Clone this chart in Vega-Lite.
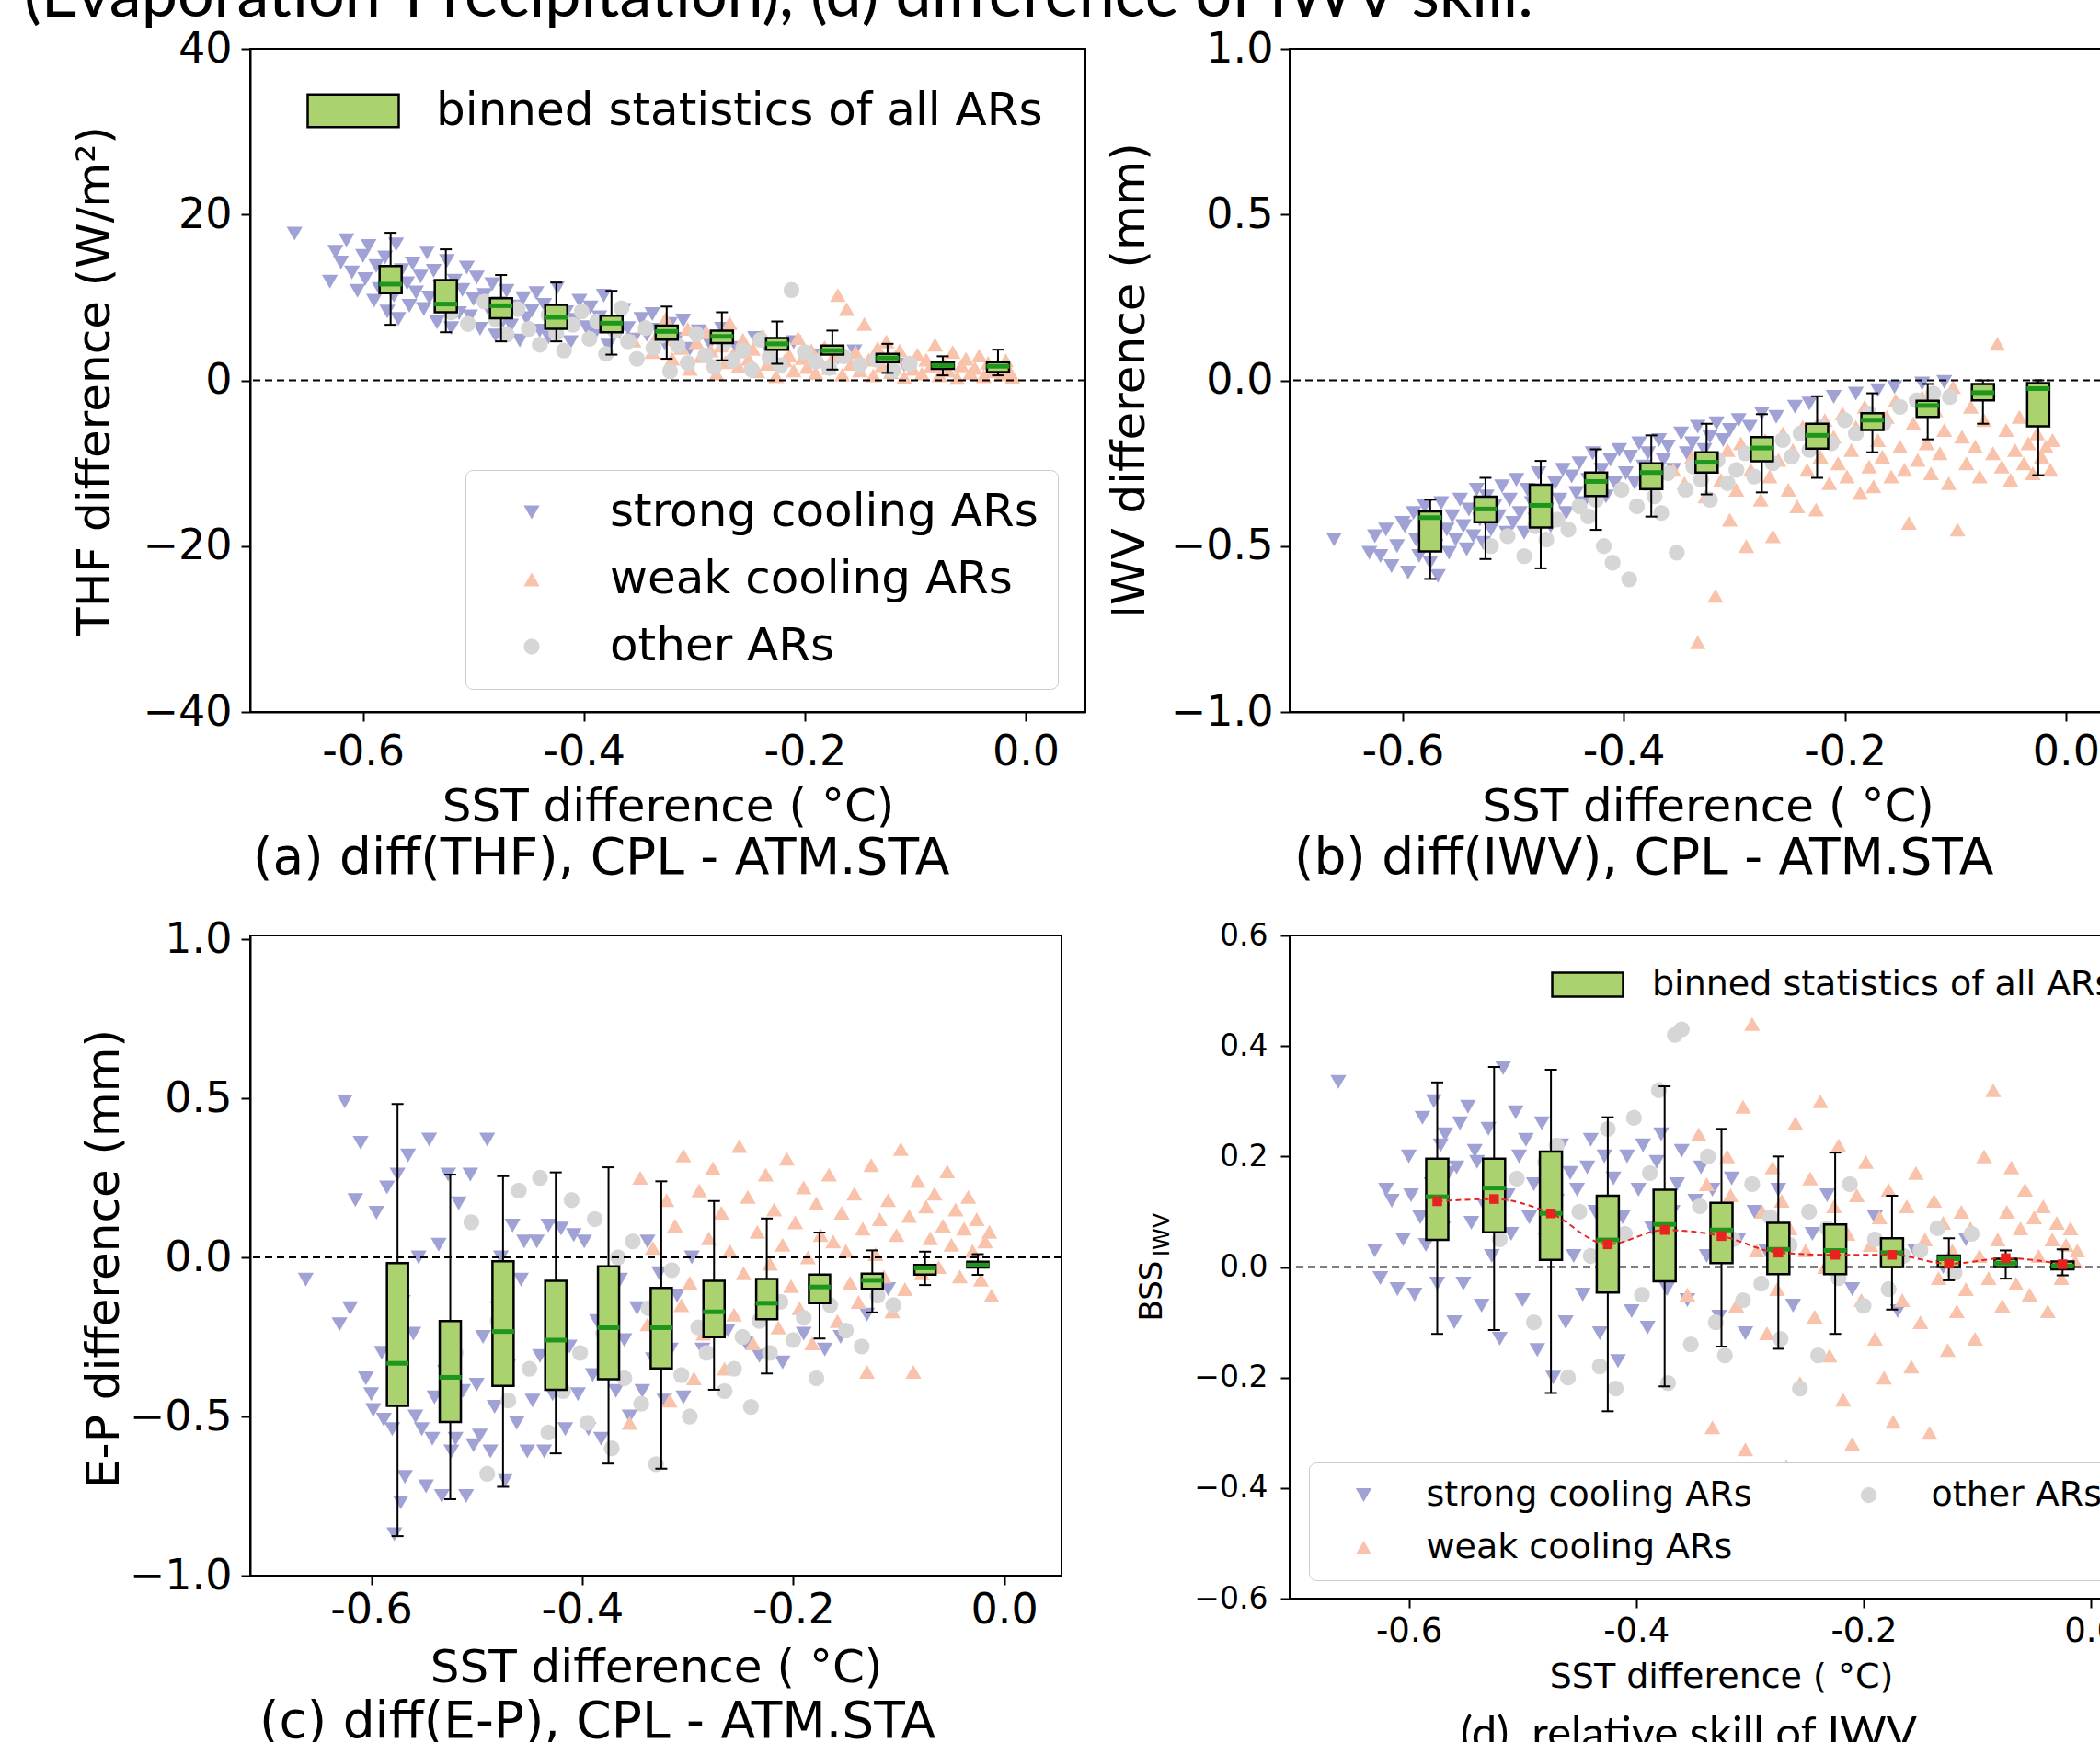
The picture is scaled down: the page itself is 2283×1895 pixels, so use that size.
{
"$schema": "https://vega.github.io/schema/vega-lite/v6.json",
"background": "white",
"padding": {"left": 26, "top": -38, "right": -56, "bottom": -18},
"title": {"text": "(Evaporation-Precipitation), (d) difference of IWV skill.", "anchor": "start", "frame": "bounds", "font": "Lato", "fontSize": 70, "fontWeight": "normal", "color": "black", "dx": -51.5, "offset": -59, "baseline": "alphabetic", "limit": 3000},
"config": {
  "font": "DejaVu Sans",
  "view": {"stroke": "black", "strokeWidth": 2},
  "axis": {"domainColor": "black", "domainWidth": 2, "tickColor": "black", "tickWidth": 2, "tickSize": 10, "labelColor": "black", "titleColor": "black", "titleFontWeight": "normal", "grid": false, "labelFont": "DejaVu Sans", "titleFont": "DejaVu Sans", "labelFlush": false, "labelOverlap": false, "labelBound": false},
  "legend": {"labelFont": "DejaVu Sans", "labelColor": "black", "labelLimit": 2000}
},
"datasets": {
"ars": [
{"sst":-0.662,"grp":"s","thf":17.7,"iwv":-0.48,"ep":-0.07,"bss":0.335},
{"sst":-0.630,"grp":"s","thf":11.9,"iwv":-0.52,"ep":-0.21,"bss":0.03},
{"sst":-0.625,"grp":"s","thf":15.5,"iwv":-0.47,"ep":0.49,"bss":-0.02},
{"sst":-0.620,"grp":"s","thf":14.2,"iwv":-0.53,"ep":-0.16,"bss":0.14},
{"sst":-0.615,"grp":"s","thf":16.9,"iwv":-0.45,"ep":0.18,"bss":0.12},
{"sst":-0.610,"grp":"s","thf":13.0,"iwv":-0.56,"ep":0.36,"bss":-0.04},
{"sst":-0.605,"grp":"s","thf":10.8,"iwv":-0.50,"ep":-0.38,"bss":0.05},
{"sst":-0.600,"grp":"s","thf":15.0,"iwv":-0.43,"ep":-0.43,"bss":0.20},
{"sst":-0.598,"grp":"s","thf":12.2,"iwv":-0.44,"ep":-0.48,"bss":0.13},
{"sst":-0.595,"grp":"s","thf":16.2,"iwv":-0.58,"ep":0.14,"bss":-0.05},
{"sst":-0.590,"grp":"s","thf":9.6,"iwv":-0.40,"ep":-0.30,"bss":0.09},
{"sst":-0.588,"grp":"s","thf":13.8,"iwv":-0.48,"ep":-0.51,"bss":0.27},
{"sst":-0.585,"grp":"s","thf":11.0,"iwv":-0.53,"ep":0.22,"bss":0.04},
{"sst":-0.580,"grp":"s","thf":14.8,"iwv":-0.38,"ep":-0.54,"bss":0.15},
{"sst":-0.578,"grp":"s","thf":8.3,"iwv":-0.46,"ep":-0.87,"bss":0.30},
{"sst":-0.575,"grp":"s","thf":12.7,"iwv":-0.55,"ep":0.26,"bss":-0.03},
{"sst":-0.572,"grp":"s","thf":10.2,"iwv":-0.42,"ep":-0.77,"bss":0.22},
{"sst":-0.570,"grp":"s","thf":16.4,"iwv":-0.50,"ep":-0.14,"bss":0.07},
{"sst":-0.568,"grp":"s","thf":7.4,"iwv":-0.59,"ep":-0.69,"bss":0.24},
{"sst":-0.565,"grp":"s","thf":13.3,"iwv":-0.37,"ep":0.32,"bss":0.17},
{"sst":-0.560,"grp":"s","thf":11.7,"iwv":-0.45,"ep":-0.24,"bss":-0.10},
{"sst":-0.558,"grp":"s","thf":9.0,"iwv":-0.52,"ep":-0.50,"bss":0.18},
{"sst":-0.555,"grp":"s","thf":14.1,"iwv":-0.41,"ep":0.00,"bss":0.26},
{"sst":-0.552,"grp":"s","thf":10.6,"iwv":-0.48,"ep":-0.54,"bss":-0.03},
{"sst":-0.548,"grp":"s","thf":12.5,"iwv":-0.36,"ep":-0.72,"bss":0.29},
{"sst":-0.545,"grp":"s","thf":8.6,"iwv":-0.44,"ep":0.37,"bss":0.08},
{"sst":-0.542,"grp":"s","thf":15.4,"iwv":-0.51,"ep":-0.57,"bss":0.21},
{"sst":-0.540,"grp":"s","thf":10.0,"iwv":-0.39,"ep":-0.44,"bss":0.19},
{"sst":-0.536,"grp":"s","thf":13.2,"iwv":-0.47,"ep":0.04,"bss":-0.07},
{"sst":-0.533,"grp":"s","thf":7.0,"iwv":-0.33,"ep":-0.75,"bss":0.11},
{"sst":-0.530,"grp":"s","thf":11.3,"iwv":-0.42,"ep":-0.36,"bss":0.25},
{"sst":-0.527,"grp":"s","thf":9.4,"iwv":-0.49,"ep":0.26,"bss":0.02},
{"sst":-0.524,"grp":"s","thf":14.4,"iwv":-0.35,"ep":-0.61,"bss":0.16},
{"sst":-0.520,"grp":"s","thf":6.3,"iwv":-0.45,"ep":-0.57,"bss":-0.13},
{"sst":-0.517,"grp":"s","thf":12.0,"iwv":-0.38,"ep":0.17,"bss":0.36},
{"sst":-0.513,"grp":"s","thf":8.1,"iwv":-0.41,"ep":-0.42,"bss":0.13},
{"sst":-0.510,"grp":"s","thf":10.9,"iwv":-0.32,"ep":-0.75,"bss":0.06},
{"sst":-0.506,"grp":"s","thf":13.6,"iwv":-0.46,"ep":0.26,"bss":0.28},
{"sst":-0.503,"grp":"s","thf":7.7,"iwv":-0.36,"ep":-0.59,"bss":0.20},
{"sst":-0.500,"grp":"s","thf":9.8,"iwv":-0.43,"ep":-0.40,"bss":-0.06},
{"sst":-0.497,"grp":"s","thf":12.4,"iwv":-0.30,"ep":-0.56,"bss":0.23},
{"sst":-0.494,"grp":"s","thf":6.2,"iwv":-0.40,"ep":-0.25,"bss":0.09},
{"sst":-0.490,"grp":"s","thf":10.3,"iwv":-0.46,"ep":0.37,"bss":0.15},
{"sst":-0.487,"grp":"s","thf":8.7,"iwv":-0.33,"ep":-0.61,"bss":-0.15},
{"sst":-0.483,"grp":"s","thf":11.6,"iwv":-0.37,"ep":-0.47,"bss":0.26},
{"sst":-0.480,"grp":"s","thf":5.4,"iwv":-0.42,"ep":-0.16,"bss":0.05},
{"sst":-0.477,"grp":"s","thf":9.3,"iwv":-0.28,"ep":0.00,"bss":0.19},
{"sst":-0.473,"grp":"s","thf":7.2,"iwv":-0.35,"ep":-0.70,"bss":-0.20},
{"sst":-0.470,"grp":"s","thf":10.8,"iwv":-0.39,"ep":-0.34,"bss":0.12},
{"sst":-0.466,"grp":"s","thf":6.6,"iwv":-0.44,"ep":0.10,"bss":0.22},
{"sst":-0.462,"grp":"s","thf":8.9,"iwv":-0.31,"ep":-0.52,"bss":-0.10},
{"sst":-0.458,"grp":"s","thf":4.8,"iwv":-0.36,"ep":-0.07,"bss":0.17},
{"sst":-0.455,"grp":"s","thf":9.9,"iwv":-0.27,"ep":0.05,"bss":0.02},
{"sst":-0.452,"grp":"s","thf":7.5,"iwv":-0.40,"ep":-0.61,"bss":0.14},
{"sst":-0.447,"grp":"s","thf":8.4,"iwv":-0.29,"ep":-0.45,"bss":-0.05},
{"sst":-0.443,"grp":"s","thf":10.5,"iwv":-0.34,"ep":0.05,"bss":0.18},
{"sst":-0.440,"grp":"s","thf":6.0,"iwv":-0.25,"ep":-0.31,"bss":0.23},
{"sst":-0.436,"grp":"s","thf":9.1,"iwv":-0.37,"ep":-0.61,"bss":0.10},
{"sst":-0.432,"grp":"s","thf":5.2,"iwv":-0.30,"ep":0.10,"bss":-0.12},
{"sst":-0.428,"grp":"s","thf":7.8,"iwv":-0.22,"ep":-0.43,"bss":0.20},
{"sst":-0.424,"grp":"s","thf":11.2,"iwv":-0.33,"ep":-0.22,"bss":0.04},
{"sst":-0.420,"grp":"s","thf":6.9,"iwv":-0.27,"ep":0.09,"bss":0.16},
{"sst":-0.416,"grp":"s","thf":8.2,"iwv":-0.35,"ep":-0.54,"bss":-0.17},
{"sst":-0.412,"grp":"s","thf":4.6,"iwv":-0.24,"ep":-0.28,"bss":0.09},
{"sst":-0.408,"grp":"s","thf":7.3,"iwv":-0.31,"ep":0.07,"bss":0.20},
{"sst":-0.404,"grp":"s","thf":9.6,"iwv":-0.21,"ep":-0.43,"bss":-0.08},
{"sst":-0.398,"grp":"s","thf":6.4,"iwv":-0.28,"ep":0.05,"bss":0.14},
{"sst":-0.394,"grp":"s","thf":8.8,"iwv":-0.23,"ep":-0.54,"bss":0.22},
{"sst":-0.390,"grp":"s","thf":5.6,"iwv":-0.31,"ep":-0.37,"bss":-0.11},
{"sst":-0.386,"grp":"s","thf":7.6,"iwv":-0.19,"ep":-0.20,"bss":0.07},
{"sst":-0.382,"grp":"s","thf":10.2,"iwv":-0.26,"ep":-0.57,"bss":0.19},
{"sst":-0.378,"grp":"s","thf":4.2,"iwv":-0.22,"ep":-0.07,"bss":0.24},
{"sst":-0.373,"grp":"s","thf":7.0,"iwv":-0.29,"ep":-0.19,"bss":-0.04},
{"sst":-0.368,"grp":"s","thf":5.8,"iwv":-0.18,"ep":-0.42,"bss":0.10},
{"sst":-0.364,"grp":"s","thf":8.5,"iwv":-0.24,"ep":-0.07,"bss":0.15},
{"sst":-0.360,"grp":"s","thf":6.3,"iwv":-0.20,"ep":-0.26,"bss":0.21},
{"sst":-0.355,"grp":"s","thf":4.9,"iwv":-0.27,"ep":-0.50,"bss":-0.06},
{"sst":-0.348,"grp":"s","thf":7.4,"iwv":-0.16,"ep":-0.16,"bss":0.12},
{"sst":-0.343,"grp":"s","thf":5.5,"iwv":-0.22,"ep":-0.42,"bss":0.18},
{"sst":-0.338,"grp":"s","thf":8.0,"iwv":-0.19,"ep":0.05,"bss":0.02},
{"sst":-0.333,"grp":"s","thf":6.1,"iwv":-0.14,"ep":-0.32,"bss":0.14},
{"sst":-0.327,"grp":"s","thf":4.5,"iwv":-0.21,"ep":-0.05,"bss":-0.09},
{"sst":-0.322,"grp":"s","thf":6.8,"iwv":-0.17,"ep":-0.45,"bss":0.09},
{"sst":-0.316,"grp":"s","thf":5.0,"iwv":-0.13,"ep":-0.29,"bss":0.16},
{"sst":-0.310,"grp":"s","thf":7.2,"iwv":-0.18,"ep":-0.12,"bss":0.05},
{"sst":-0.304,"grp":"s","thf":3.8,"iwv":-0.15,"ep":-0.44,"bss":-0.12},
{"sst":-0.296,"grp":"s","thf":5.9,"iwv":-0.12,"ep":0.00,"bss":0.10},
{"sst":-0.286,"grp":"s","thf":4.4,"iwv":-0.14,"ep":-0.29,"bss":0.03},
{"sst":-0.275,"grp":"s","thf":6.2,"iwv":-0.10,"ep":-0.15,"bss":0.14},
{"sst":-0.262,"grp":"s","thf":3.9,"iwv":-0.11,"ep":-0.23,"bss":-0.07},
{"sst":-0.245,"grp":"s","thf":5.1,"iwv":-0.08,"ep":-0.27,"bss":0.06},
{"sst":-0.232,"grp":"s","thf":3.3,"iwv":-0.07,"ep":-0.31,"bss":0.13},
{"sst":-0.210,"grp":"s","thf":4.6,"iwv":-0.05,"ep":-0.33,"bss":-0.04},
{"sst":-0.190,"grp":"s","thf":3.0,"iwv":-0.04,"ep":-0.24,"bss":0.09},
{"sst":-0.170,"grp":"s","thf":2.7,"iwv":-0.03,"ep":-0.29,"bss":-0.08},
{"sst":-0.155,"grp":"s","thf":3.5,"iwv":-0.02,"ep":-0.25,"bss":0.03},
{"sst":-0.130,"grp":"s","thf":2.2,"iwv":-0.01,"ep":-0.18,"bss":0.00},
{"sst":-0.110,"grp":"s","thf":1.9,"iwv":-0.005,"ep":-0.10,"bss":0.05},
{"sst":-0.355,"grp":"w","thf":4.8,"iwv":-0.27,"ep":-0.52,"bss":-0.05},
{"sst":-0.345,"grp":"w","thf":6.5,"iwv":-0.31,"ep":0.25,"bss":0.24},
{"sst":-0.338,"grp":"w","thf":3.4,"iwv":-0.23,"ep":-0.21,"bss":0.15},
{"sst":-0.333,"grp":"w","thf":5.6,"iwv":-0.79,"ep":0.03,"bss":-0.29},
{"sst":-0.326,"grp":"w","thf":7.4,"iwv":-0.35,"ep":-0.30,"bss":0.08},
{"sst":-0.320,"grp":"w","thf":2.6,"iwv":-0.26,"ep":0.18,"bss":0.20},
{"sst":-0.317,"grp":"w","thf":5.0,"iwv":-0.65,"ep":-0.45,"bss":0.13},
{"sst":-0.312,"grp":"w","thf":3.9,"iwv":-0.30,"ep":0.10,"bss":-0.07},
{"sst":-0.306,"grp":"w","thf":6.2,"iwv":-0.21,"ep":-0.15,"bss":0.29},
{"sst":-0.304,"grp":"w","thf":1.4,"iwv":-0.42,"ep":0.32,"bss":-0.33},
{"sst":-0.298,"grp":"w","thf":4.6,"iwv":-0.33,"ep":-0.08,"bss":0.44},
{"sst":-0.294,"grp":"w","thf":2.9,"iwv":-0.19,"ep":-0.38,"bss":0.03},
{"sst":-0.289,"grp":"w","thf":5.8,"iwv":-0.50,"ep":0.21,"bss":0.10},
{"sst":-0.285,"grp":"w","thf":3.6,"iwv":-0.27,"ep":-0.24,"bss":-0.12},
{"sst":-0.280,"grp":"w","thf":0.8,"iwv":-0.22,"ep":0.06,"bss":0.18},
{"sst":-0.276,"grp":"w","thf":4.2,"iwv":-0.36,"ep":0.28,"bss":-0.04},
{"sst":-0.272,"grp":"w","thf":2.2,"iwv":-0.18,"ep":-0.11,"bss":0.12},
{"sst":-0.268,"grp":"w","thf":6.9,"iwv":-0.29,"ep":0.14,"bss":-0.36},
{"sst":-0.265,"grp":"w","thf":3.1,"iwv":-0.47,"ep":-0.35,"bss":0.07},
{"sst":-0.260,"grp":"w","thf":1.7,"iwv":-0.24,"ep":0.02,"bss":0.26},
{"sst":-0.256,"grp":"w","thf":4.9,"iwv":-0.16,"ep":-0.18,"bss":-0.21},
{"sst":-0.251,"grp":"w","thf":2.6,"iwv":-0.33,"ep":0.35,"bss":0.03},
{"sst":-0.247,"grp":"w","thf":3.8,"iwv":-0.21,"ep":-0.05,"bss":0.16},
{"sst":-0.243,"grp":"w","thf":1.1,"iwv":-0.38,"ep":0.19,"bss":-0.09},
{"sst":-0.238,"grp":"w","thf":5.4,"iwv":-0.14,"ep":-0.27,"bss":0.30},
{"sst":-0.234,"grp":"w","thf":2.0,"iwv":-0.27,"ep":0.08,"bss":0.00},
{"sst":-0.230,"grp":"w","thf":3.3,"iwv":-0.19,"ep":-0.13,"bss":-0.16},
{"sst":-0.226,"grp":"w","thf":0.5,"iwv":-0.39,"ep":0.26,"bss":0.11},
{"sst":-0.222,"grp":"w","thf":4.4,"iwv":-0.23,"ep":-0.02,"bss":0.22},
{"sst":-0.218,"grp":"w","thf":2.4,"iwv":-0.12,"ep":0.15,"bss":-0.24},
{"sst":-0.214,"grp":"w","thf":3.0,"iwv":-0.31,"ep":-0.22,"bss":0.06},
{"sst":-0.210,"grp":"w","thf":1.2,"iwv":-0.17,"ep":0.04,"bss":-0.32},
{"sst":-0.206,"grp":"w","thf":5.1,"iwv":-0.25,"ep":0.31,"bss":0.13},
{"sst":-0.202,"grp":"w","thf":2.7,"iwv":-0.10,"ep":-0.09,"bss":-0.06},
{"sst":-0.198,"grp":"w","thf":1.6,"iwv":-0.29,"ep":0.11,"bss":0.19},
{"sst":-0.194,"grp":"w","thf":3.6,"iwv":-0.21,"ep":-0.16,"bss":0.04},
{"sst":-0.190,"grp":"w","thf":0.9,"iwv":-0.14,"ep":0.22,"bss":-0.13},
{"sst":-0.186,"grp":"w","thf":2.3,"iwv":-0.34,"ep":0.00,"bss":0.09},
{"sst":-0.182,"grp":"w","thf":4.0,"iwv":-0.08,"ep":-0.27,"bss":-0.20},
{"sst":-0.178,"grp":"w","thf":1.5,"iwv":-0.26,"ep":0.17,"bss":0.14},
{"sst":-0.174,"grp":"w","thf":2.9,"iwv":-0.32,"ep":0.07,"bss":-0.28},
{"sst":-0.170,"grp":"w","thf":10.3,"iwv":-0.18,"ep":-0.12,"bss":0.01},
{"sst":-0.166,"grp":"w","thf":0.7,"iwv":-0.23,"ep":0.26,"bss":-0.06},
{"sst":-0.162,"grp":"w","thf":8.6,"iwv":-0.11,"ep":0.05,"bss":0.11},
{"sst":-0.158,"grp":"w","thf":2.0,"iwv":-0.29,"ep":-0.20,"bss":-0.18},
{"sst":-0.154,"grp":"w","thf":3.4,"iwv":-0.06,"ep":0.14,"bss":0.17},
{"sst":-0.150,"grp":"w","thf":1.2,"iwv":-0.20,"ep":0.02,"bss":-0.10},
{"sst":-0.146,"grp":"w","thf":6.8,"iwv":-0.27,"ep":-0.08,"bss":0.05},
{"sst":-0.142,"grp":"w","thf":2.5,"iwv":-0.43,"ep":0.20,"bss":-0.30},
{"sst":-0.138,"grp":"w","thf":0.6,"iwv":-0.13,"ep":-0.14,"bss":0.12},
{"sst":-0.134,"grp":"w","thf":3.9,"iwv":-0.24,"ep":0.09,"bss":-0.02},
{"sst":-0.130,"grp":"w","thf":1.8,"iwv":-0.05,"ep":-0.36,"bss":0.08},
{"sst":-0.126,"grp":"w","thf":4.7,"iwv":-0.19,"ep":0.29,"bss":-0.15},
{"sst":-0.122,"grp":"w","thf":1.0,"iwv":-0.28,"ep":0.01,"bss":0.03},
{"sst":-0.118,"grp":"w","thf":2.8,"iwv":-0.09,"ep":0.12,"bss":-0.08},
{"sst":-0.114,"grp":"w","thf":3.6,"iwv":-0.22,"ep":-0.06,"bss":0.10},
{"sst":-0.110,"grp":"w","thf":0.4,"iwv":-0.15,"ep":0.18,"bss":-0.04},
{"sst":-0.106,"grp":"w","thf":2.2,"iwv":-0.31,"ep":-0.17,"bss":0.07},
{"sst":-0.102,"grp":"w","thf":1.4,"iwv":-0.02,"ep":0.07,"bss":-0.13},
{"sst":-0.098,"grp":"w","thf":3.1,"iwv":-0.45,"ep":0.34,"bss":0.02},
{"sst":-0.094,"grp":"w","thf":0.8,"iwv":-0.17,"ep":-0.10,"bss":0.20},
{"sst":-0.090,"grp":"w","thf":2.5,"iwv":-0.25,"ep":0.13,"bss":-0.02},
{"sst":-0.086,"grp":"w","thf":1.7,"iwv":-0.08,"ep":-0.36,"bss":0.32},
{"sst":-0.082,"grp":"w","thf":4.3,"iwv":-0.20,"ep":0.24,"bss":0.05},
{"sst":-0.078,"grp":"w","thf":0.6,"iwv":-0.29,"ep":-0.05,"bss":-0.07},
{"sst":-0.074,"grp":"w","thf":2.0,"iwv":-0.12,"ep":0.16,"bss":0.10},
{"sst":-0.070,"grp":"w","thf":1.2,"iwv":-0.03,"ep":0.06,"bss":0.18},
{"sst":-0.066,"grp":"w","thf":3.4,"iwv":-0.22,"ep":0.20,"bss":-0.03},
{"sst":-0.062,"grp":"w","thf":0.3,"iwv":0.11,"ep":-0.03,"bss":0.07},
{"sst":-0.058,"grp":"w","thf":1.8,"iwv":-0.26,"ep":0.10,"bss":0.14},
{"sst":-0.054,"grp":"w","thf":2.6,"iwv":-0.15,"ep":0.27,"bss":-0.05},
{"sst":-0.050,"grp":"w","thf":0.9,"iwv":-0.30,"ep":0.04,"bss":0.09},
{"sst":-0.046,"grp":"w","thf":1.5,"iwv":-0.21,"ep":0.15,"bss":0.02},
{"sst":-0.042,"grp":"w","thf":3.0,"iwv":-0.11,"ep":-0.06,"bss":0.11},
{"sst":-0.038,"grp":"w","thf":0.5,"iwv":-0.25,"ep":0.09,"bss":-0.08},
{"sst":-0.034,"grp":"w","thf":2.1,"iwv":-0.19,"ep":0.19,"bss":0.05},
{"sst":-0.030,"grp":"w","thf":1.1,"iwv":-0.28,"ep":0.02,"bss":0.08},
{"sst":-0.026,"grp":"w","thf":1.7,"iwv":-0.16,"ep":0.12,"bss":-0.02},
{"sst":-0.022,"grp":"w","thf":0.7,"iwv":-0.23,"ep":-0.07,"bss":0.04},
{"sst":-0.018,"grp":"w","thf":2.4,"iwv":-0.20,"ep":0.05,"bss":0.07},
{"sst":-0.014,"grp":"w","thf":1.0,"iwv":-0.27,"ep":0.08,"bss":0.01},
{"sst":-0.012,"grp":"w","thf":0.4,"iwv":-0.18,"ep":-0.12,"bss":0.03},
{"sst":-0.520,"grp":"o","thf":8.2,"iwv":-0.50,"ep":-0.30,"bss":0.05},
{"sst":-0.505,"grp":"o","thf":6.8,"iwv":-0.47,"ep":0.11,"bss":0.16},
{"sst":-0.490,"grp":"o","thf":9.5,"iwv":-0.53,"ep":-0.68,"bss":-0.10},
{"sst":-0.480,"grp":"o","thf":7.4,"iwv":-0.44,"ep":-0.20,"bss":0.19},
{"sst":-0.470,"grp":"o","thf":5.5,"iwv":-0.48,"ep":-0.45,"bss":0.22},
{"sst":-0.460,"grp":"o","thf":8.6,"iwv":-0.42,"ep":0.21,"bss":-0.20},
{"sst":-0.450,"grp":"o","thf":6.2,"iwv":-0.45,"ep":-0.35,"bss":0.10},
{"sst":-0.440,"grp":"o","thf":4.3,"iwv":-0.38,"ep":0.25,"bss":0.02},
{"sst":-0.432,"grp":"o","thf":7.9,"iwv":-0.41,"ep":-0.55,"bss":-0.18},
{"sst":-0.425,"grp":"o","thf":5.7,"iwv":-0.36,"ep":-0.10,"bss":0.25},
{"sst":-0.418,"grp":"o","thf":3.6,"iwv":-0.50,"ep":-0.42,"bss":-0.22},
{"sst":-0.410,"grp":"o","thf":6.7,"iwv":-0.55,"ep":0.18,"bss":0.06},
{"sst":-0.402,"grp":"o","thf":8.3,"iwv":-0.33,"ep":-0.30,"bss":0.27},
{"sst":-0.395,"grp":"o","thf":5.0,"iwv":-0.60,"ep":-0.52,"bss":-0.05},
{"sst":-0.388,"grp":"o","thf":7.1,"iwv":-0.38,"ep":0.12,"bss":0.17},
{"sst":-0.380,"grp":"o","thf":3.2,"iwv":-0.31,"ep":-0.24,"bss":0.32},
{"sst":-0.372,"grp":"o","thf":6.0,"iwv":-0.35,"ep":-0.60,"bss":-0.21},
{"sst":-0.366,"grp":"o","thf":8.7,"iwv":-0.40,"ep":0.00,"bss":0.42},
{"sst":-0.360,"grp":"o","thf":4.7,"iwv":-0.28,"ep":-0.38,"bss":0.43},
{"sst":-0.352,"grp":"o","thf":2.6,"iwv":-0.52,"ep":0.05,"bss":-0.14},
{"sst":-0.344,"grp":"o","thf":6.3,"iwv":-0.33,"ep":-0.46,"bss":0.11},
{"sst":-0.337,"grp":"o","thf":3.9,"iwv":-0.26,"ep":-0.16,"bss":0.20},
{"sst":-0.330,"grp":"o","thf":5.4,"iwv":-0.30,"ep":-0.65,"bss":-0.10},
{"sst":-0.322,"grp":"o","thf":1.1,"iwv":-0.36,"ep":-0.28,"bss":-0.16},
{"sst":-0.315,"grp":"o","thf":4.2,"iwv":-0.24,"ep":-0.04,"bss":0.05},
{"sst":-0.306,"grp":"o","thf":2.1,"iwv":-0.31,"ep":-0.37,"bss":-0.06},
{"sst":-0.298,"grp":"o","thf":5.6,"iwv":-0.27,"ep":-0.50,"bss":0.15},
{"sst":-0.290,"grp":"o","thf":3.0,"iwv":-0.22,"ep":-0.22,"bss":-0.03},
{"sst":-0.282,"grp":"o","thf":1.6,"iwv":-0.29,"ep":-0.30,"bss":0.09},
{"sst":-0.273,"grp":"o","thf":4.5,"iwv":-0.20,"ep":-0.13,"bss":-0.13},
{"sst":-0.265,"grp":"o","thf":2.4,"iwv":-0.25,"ep":-0.42,"bss":0.04},
{"sst":-0.256,"grp":"o","thf":3.6,"iwv":-0.18,"ep":-0.35,"bss":-0.22},
{"sst":-0.248,"grp":"o","thf":1.3,"iwv":-0.23,"ep":-0.25,"bss":0.10},
{"sst":-0.240,"grp":"o","thf":4.9,"iwv":-0.16,"ep":-0.47,"bss":-0.16},
{"sst":-0.232,"grp":"o","thf":2.8,"iwv":-0.21,"ep":-0.20,"bss":0.07},
{"sst":-0.222,"grp":"o","thf":1.8,"iwv":-0.14,"ep":-0.30,"bss":-0.02},
{"sst":-0.212,"grp":"o","thf":10.9,"iwv":-0.19,"ep":-0.14,"bss":0.15},
{"sst":-0.200,"grp":"o","thf":3.4,"iwv":-0.12,"ep":-0.26,"bss":-0.07},
{"sst":-0.190,"grp":"o","thf":2.3,"iwv":-0.16,"ep":-0.19,"bss":0.05},
{"sst":-0.178,"grp":"o","thf":1.5,"iwv":-0.10,"ep":-0.38,"bss":-0.04},
{"sst":-0.165,"grp":"o","thf":2.9,"iwv":-0.13,"ep":-0.15,"bss":0.02},
{"sst":-0.150,"grp":"o","thf":1.9,"iwv":-0.08,"ep":-0.23,"bss":0.03},
{"sst":-0.135,"grp":"o","thf":2.5,"iwv":-0.06,"ep":-0.28,"bss":0.07},
{"sst":-0.120,"grp":"o","thf":1.2,"iwv":-0.04,"ep":-0.12,"bss":-0.01},
{"sst":-0.105,"grp":"o","thf":2.0,"iwv":-0.05,"ep":-0.15,"bss":0.06}
],
"bins": [
{"p":"a","c":-0.575,"lo":6.7,"q1":10.5,"md":11.6,"q3":13.8,"hi":17.8},
{"p":"a","c":-0.525,"lo":5.8,"q1":8.2,"md":9.2,"q3":12.1,"hi":15.8},
{"p":"a","c":-0.475,"lo":4.7,"q1":7.5,"md":9.0,"q3":9.9,"hi":12.7},
{"p":"a","c":-0.425,"lo":4.7,"q1":6.2,"md":7.6,"q3":9.1,"hi":11.8},
{"p":"a","c":-0.375,"lo":3.1,"q1":5.8,"md":6.9,"q3":7.8,"hi":10.8},
{"p":"a","c":-0.325,"lo":2.6,"q1":4.9,"md":5.9,"q3":6.6,"hi":8.9},
{"p":"a","c":-0.275,"lo":2.4,"q1":4.5,"md":5.3,"q3":6.0,"hi":8.2},
{"p":"a","c":-0.225,"lo":2.0,"q1":3.7,"md":4.4,"q3":5.1,"hi":7.1},
{"p":"a","c":-0.175,"lo":1.3,"q1":3.1,"md":3.6,"q3":4.2,"hi":6.0},
{"p":"a","c":-0.125,"lo":0.9,"q1":2.2,"md":2.7,"q3":3.2,"hi":4.4},
{"p":"a","c":-0.075,"lo":0.6,"q1":1.4,"md":1.8,"q3":2.2,"hi":2.9},
{"p":"a","c":-0.025,"lo":0.6,"q1":1.0,"md":1.7,"q3":2.2,"hi":3.7},
{"p":"b","c":-0.575,"lo":-0.599,"q1":-0.516,"md":-0.414,"q3":-0.395,"hi":-0.360},
{"p":"b","c":-0.525,"lo":-0.539,"q1":-0.428,"md":-0.388,"q3":-0.351,"hi":-0.294},
{"p":"b","c":-0.475,"lo":-0.567,"q1":-0.444,"md":-0.377,"q3":-0.315,"hi":-0.243},
{"p":"b","c":-0.425,"lo":-0.451,"q1":-0.349,"md":-0.305,"q3":-0.278,"hi":-0.208},
{"p":"b","c":-0.375,"lo":-0.411,"q1":-0.328,"md":-0.278,"q3":-0.250,"hi":-0.166},
{"p":"b","c":-0.325,"lo":-0.344,"q1":-0.278,"md":-0.247,"q3":-0.217,"hi":-0.131},
{"p":"b","c":-0.275,"lo":-0.338,"q1":-0.244,"md":-0.204,"q3":-0.171,"hi":-0.102},
{"p":"b","c":-0.225,"lo":-0.294,"q1":-0.206,"md":-0.166,"q3":-0.131,"hi":-0.048},
{"p":"b","c":-0.175,"lo":-0.217,"q1":-0.150,"md":-0.120,"q3":-0.099,"hi":-0.039},
{"p":"b","c":-0.125,"lo":-0.178,"q1":-0.110,"md":-0.076,"q3":-0.062,"hi":-0.011},
{"p":"b","c":-0.075,"lo":-0.131,"q1":-0.060,"md":-0.037,"q3":-0.011,"hi":0.0},
{"p":"b","c":-0.025,"lo":-0.286,"q1":-0.139,"md":-0.025,"q3":-0.008,"hi":0.0},
{"p":"c","c":-0.575,"lo":-0.876,"q1":-0.467,"md":-0.333,"q3":-0.018,"hi":0.482},
{"p":"c","c":-0.525,"lo":-0.76,"q1":-0.517,"md":-0.377,"q3":-0.2,"hi":0.26},
{"p":"c","c":-0.475,"lo":-0.721,"q1":-0.404,"md":-0.233,"q3":-0.012,"hi":0.255},
{"p":"c","c":-0.425,"lo":-0.616,"q1":-0.416,"md":-0.26,"q3":-0.074,"hi":0.267},
{"p":"c","c":-0.375,"lo":-0.648,"q1":-0.383,"md":-0.221,"q3":-0.028,"hi":0.283},
{"p":"c","c":-0.325,"lo":-0.664,"q1":-0.349,"md":-0.221,"q3":-0.096,"hi":0.239},
{"p":"c","c":-0.275,"lo":-0.416,"q1":-0.251,"md":-0.171,"q3":-0.074,"hi":0.177},
{"p":"c","c":-0.225,"lo":-0.365,"q1":-0.194,"md":-0.144,"q3":-0.068,"hi":0.122},
{"p":"c","c":-0.175,"lo":-0.255,"q1":-0.144,"md":-0.093,"q3":-0.054,"hi":0.078},
{"p":"c","c":-0.125,"lo":-0.173,"q1":-0.099,"md":-0.072,"q3":-0.051,"hi":0.022},
{"p":"c","c":-0.075,"lo":-0.087,"q1":-0.054,"md":-0.033,"q3":-0.024,"hi":0.018},
{"p":"c","c":-0.025,"lo":-0.055,"q1":-0.032,"md":-0.024,"q3":-0.014,"hi":0.01},
{"p":"d","c":-0.575,"lo":-0.121,"q1":0.049,"md":0.127,"q3":0.196,"hi":0.334,"mn":0.119},
{"p":"d","c":-0.525,"lo":-0.114,"q1":0.063,"md":0.143,"q3":0.196,"hi":0.362,"mn":0.123},
{"p":"d","c":-0.475,"lo":-0.228,"q1":0.013,"md":0.097,"q3":0.209,"hi":0.357,"mn":0.097},
{"p":"d","c":-0.425,"lo":-0.261,"q1":-0.046,"md":0.049,"q3":0.129,"hi":0.271,"mn":0.041},
{"p":"d","c":-0.375,"lo":-0.216,"q1":-0.026,"md":0.077,"q3":0.14,"hi":0.327,"mn":0.067},
{"p":"d","c":-0.325,"lo":-0.144,"q1":0.007,"md":0.067,"q3":0.116,"hi":0.25,"mn":0.056},
{"p":"d","c":-0.275,"lo":-0.148,"q1":-0.013,"md":0.032,"q3":0.08,"hi":0.2,"mn":0.026},
{"p":"d","c":-0.225,"lo":-0.121,"q1":-0.013,"md":0.03,"q3":0.077,"hi":0.207,"mn":0.022},
{"p":"d","c":-0.175,"lo":-0.077,"q1":0.0,"md":0.026,"q3":0.052,"hi":0.129,"mn":0.022},
{"p":"d","c":-0.125,"lo":-0.024,"q1":0.0,"md":0.015,"q3":0.021,"hi":0.052,"mn":0.006},
{"p":"d","c":-0.075,"lo":-0.021,"q1":0.0,"md":0.007,"q3":0.015,"hi":0.03,"mn":0.016},
{"p":"d","c":-0.025,"lo":-0.015,"q1":-0.004,"md":0.002,"q3":0.01,"hi":0.032,"mn":0.005}
]
},
"spacing": 35,
"resolve": {"scale": {"color": "independent", "shape": "independent", "fill": "independent"}, "legend": {"color": "independent", "shape": "independent", "fill": "independent"}},
"vconcat": [
{
"hconcat": [
{
 "width": 908, "height": 721,
 "title": {"text": "(a) diff(THF), CPL - ATM.STA", "orient": "bottom", "anchor": "start", "frame": "group", "font": "DejaVu Sans", "fontSize": 55, "fontWeight": "normal", "color": "black", "offset": 5, "dx": 3},
 "layer": [
  {"data": {"name": "ars"}, "mark": {"type": "point", "filled": true, "size": 300, "opacity": 1},
   "encoding": {
    "x": {"field": "sst", "type": "quantitative", "scale": {"domain": [-0.698, 0.05], "nice": false, "zero": false},
          "axis": {"values": [-0.6, -0.4, -0.2, 0], "format": ".1f", "labelExpr": "replace(datum.label, '−', '-')", "labelFontSize": 46, "labelPadding": 11, "title": "SST difference ( °C)", "titleFontSize": 50, "titlePadding": 12}},
    "y": {"field": "thf", "type": "quantitative", "scale": {"domain": [-40, 40], "nice": false, "zero": false},
          "axis": {"values": [-40, -20, 0, 20, 40], "labelFontSize": 46, "labelPadding": 10, "title": "THF difference (W/m²)", "titleFontSize": 50, "titleX": -168.5, "titleY": 360.5, "titleAngle": -90, "titleBaseline": "middle", "titleAlign": "center"}},
    "color": {"field": "grp", "type": "nominal", "scale": {"domain": ["s", "w", "o"], "range": ["#a0a2d6", "#f9c3ab", "#d6d6d6"]},
              "legend": {"orient": "none", "legendX": 234, "legendY": 458, "title": null, "labelFontSize": 50, "symbolSize": 300, "symbolOffset": 26, "labelOffset": 60, "rowPadding": 23, "padding": 21, "strokeColor": "#cccccc", "cornerRadius": 8, "fillColor": "white", "symbolStrokeWidth": 0, "labelExpr": "datum.label == 's' ? 'strong cooling ARs' : datum.label == 'w' ? 'weak cooling ARs' : 'other ARs'"}},
    "shape": {"field": "grp", "type": "nominal", "scale": {"domain": ["s", "w", "o"], "range": ["triangle-down", "triangle-up", "circle"]},
              "legend": {"orient": "none", "legendX": 234, "legendY": 458, "title": null, "labelFontSize": 50, "symbolSize": 300, "symbolOffset": 26, "labelOffset": 60, "rowPadding": 23, "padding": 21, "strokeColor": "#cccccc", "cornerRadius": 8, "fillColor": "white", "symbolStrokeWidth": 0, "labelExpr": "datum.label == 's' ? 'strong cooling ARs' : datum.label == 'w' ? 'weak cooling ARs' : 'other ARs'"}}
   }},
  {"data": {"values": [{}]}, "mark": {"type": "rule", "color": "black", "strokeWidth": 2, "strokeDash": [8, 5]}, "encoding": {"y": {"datum": 0, "type": "quantitative"}}},
  {"data": {"name": "bins"}, "transform": [{"filter": "datum.p == 'a'"}], "mark": {"type": "rule", "color": "black", "strokeWidth": 2},
   "encoding": {"x": {"field": "c", "type": "quantitative", "scale": {"domain": [-0.698, 0.05], "nice": false, "zero": false}}, "y": {"field": "lo", "type": "quantitative", "scale": {"domain": [-40, 40], "nice": false, "zero": false}}, "y2": {"field": "hi"}}},
  {"data": {"name": "bins"}, "transform": [{"filter": "datum.p == 'a'"}], "mark": {"type": "tick", "orient": "horizontal", "size": 13, "thickness": 2, "color": "black", "opacity": 1},
   "encoding": {"x": {"field": "c", "type": "quantitative", "scale": {"domain": [-0.698, 0.05], "nice": false, "zero": false}}, "y": {"field": "lo", "type": "quantitative", "scale": {"domain": [-40, 40], "nice": false, "zero": false}}}},
  {"data": {"name": "bins"}, "transform": [{"filter": "datum.p == 'a'"}], "mark": {"type": "tick", "orient": "horizontal", "size": 13, "thickness": 2, "color": "black", "opacity": 1},
   "encoding": {"x": {"field": "c", "type": "quantitative", "scale": {"domain": [-0.698, 0.05], "nice": false, "zero": false}}, "y": {"field": "hi", "type": "quantitative", "scale": {"domain": [-40, 40], "nice": false, "zero": false}}}},
  {"data": {"name": "bins"}, "transform": [{"filter": "datum.p == 'a'"}], "mark": {"type": "bar", "size": 24, "stroke": "black", "strokeWidth": 2.5, "opacity": 1},
   "encoding": {"x": {"field": "c", "type": "quantitative", "scale": {"domain": [-0.698, 0.05], "nice": false, "zero": false}}, "y": {"field": "q1", "type": "quantitative", "scale": {"domain": [-40, 40], "nice": false, "zero": false}}, "y2": {"field": "q3"},
    "fill": {"datum": "binned statistics of all ARs", "type": "nominal", "scale": {"range": ["#aad26e"]},
             "legend": {"orient": "none", "legendX": 61, "legendY": 16.5, "title": null, "padding": 0, "symbolType": "M-1,-0.36L1,-0.36L1,0.36L-1,0.36Z", "symbolSize": 9801, "symbolStrokeColor": "black", "symbolStrokeWidth": 2.5, "labelFontSize": 50, "labelOffset": 39}}}},
  {"data": {"name": "bins"}, "transform": [{"filter": "datum.p == 'a'"}], "mark": {"type": "tick", "orient": "horizontal", "size": 25, "thickness": 5, "color": "#1e961e", "opacity": 1},
   "encoding": {"x": {"field": "c", "type": "quantitative", "scale": {"domain": [-0.698, 0.05], "nice": false, "zero": false}}, "y": {"field": "md", "type": "quantitative", "scale": {"domain": [-40, 40], "nice": false, "zero": false}}}}
 ]
},
{
 "width": 909, "height": 721,
 "title": {"text": "(b) diff(IWV), CPL - ATM.STA", "orient": "bottom", "anchor": "start", "frame": "group", "font": "DejaVu Sans", "fontSize": 55, "fontWeight": "normal", "color": "black", "offset": 5, "dx": 5},
 "layer": [
  {"data": {"name": "ars"}, "mark": {"type": "point", "filled": true, "size": 300, "opacity": 1},
   "encoding": {
    "x": {"field": "sst", "type": "quantitative", "scale": {"domain": [-0.698, 0.05], "nice": false, "zero": false},
          "axis": {"values": [-0.6, -0.4, -0.2, 0], "format": ".1f", "labelExpr": "replace(datum.label, '−', '-')", "labelFontSize": 46, "labelPadding": 11, "title": "SST difference ( °C)", "titleFontSize": 50, "titlePadding": 12}},
    "y": {"field": "iwv", "type": "quantitative", "scale": {"domain": [-1, 1], "nice": false, "zero": false},
          "axis": {"values": [-1, -0.5, 0, 0.5, 1], "format": ".1f", "labelFontSize": 46, "labelPadding": 8, "title": "IWV difference (mm)", "titleFontSize": 50, "titleX": -174, "titleY": 360.5, "titleAngle": -90, "titleBaseline": "middle", "titleAlign": "center"}},
    "color": {"field": "grp", "type": "nominal", "scale": {"domain": ["s", "w", "o"], "range": ["#a0a2d6", "#f9c3ab", "#d6d6d6"]}, "legend": null},
    "shape": {"field": "grp", "type": "nominal", "scale": {"domain": ["s", "w", "o"], "range": ["triangle-down", "triangle-up", "circle"]}, "legend": null}
   }},
  {"data": {"values": [{}]}, "mark": {"type": "rule", "color": "black", "strokeWidth": 2, "strokeDash": [8, 5]}, "encoding": {"y": {"datum": 0, "type": "quantitative"}}},
  {"data": {"name": "bins"}, "transform": [{"filter": "datum.p == 'b'"}], "mark": {"type": "rule", "color": "black", "strokeWidth": 2},
   "encoding": {"x": {"field": "c", "type": "quantitative", "scale": {"domain": [-0.698, 0.05], "nice": false, "zero": false}}, "y": {"field": "lo", "type": "quantitative", "scale": {"domain": [-1, 1], "nice": false, "zero": false}}, "y2": {"field": "hi"}}},
  {"data": {"name": "bins"}, "transform": [{"filter": "datum.p == 'b'"}], "mark": {"type": "tick", "orient": "horizontal", "size": 13, "thickness": 2, "color": "black", "opacity": 1},
   "encoding": {"x": {"field": "c", "type": "quantitative", "scale": {"domain": [-0.698, 0.05], "nice": false, "zero": false}}, "y": {"field": "lo", "type": "quantitative", "scale": {"domain": [-1, 1], "nice": false, "zero": false}}}},
  {"data": {"name": "bins"}, "transform": [{"filter": "datum.p == 'b'"}], "mark": {"type": "tick", "orient": "horizontal", "size": 13, "thickness": 2, "color": "black", "opacity": 1},
   "encoding": {"x": {"field": "c", "type": "quantitative", "scale": {"domain": [-0.698, 0.05], "nice": false, "zero": false}}, "y": {"field": "hi", "type": "quantitative", "scale": {"domain": [-1, 1], "nice": false, "zero": false}}}},
  {"data": {"name": "bins"}, "transform": [{"filter": "datum.p == 'b'"}], "mark": {"type": "bar", "size": 24, "stroke": "black", "strokeWidth": 2.5, "fill": "#aad26e", "opacity": 1},
   "encoding": {"x": {"field": "c", "type": "quantitative", "scale": {"domain": [-0.698, 0.05], "nice": false, "zero": false}}, "y": {"field": "q1", "type": "quantitative", "scale": {"domain": [-1, 1], "nice": false, "zero": false}}, "y2": {"field": "q3"}}},
  {"data": {"name": "bins"}, "transform": [{"filter": "datum.p == 'b'"}], "mark": {"type": "tick", "orient": "horizontal", "size": 25, "thickness": 5, "color": "#1e961e", "opacity": 1},
   "encoding": {"x": {"field": "c", "type": "quantitative", "scale": {"domain": [-0.698, 0.05], "nice": false, "zero": false}}, "y": {"field": "md", "type": "quantitative", "scale": {"domain": [-1, 1], "nice": false, "zero": false}}}}
 ]
}
],
"spacing": 222,
"bounds": "flush",
"resolve": {"scale": {"color": "independent", "shape": "independent", "fill": "independent"}, "legend": {"color": "independent", "shape": "independent", "fill": "independent"}}
},
{
"hconcat": [
{
 "width": 882, "height": 696,
 "title": {"text": "(c) diff(E-P), CPL - ATM.STA", "orient": "bottom", "anchor": "start", "frame": "group", "font": "DejaVu Sans", "fontSize": 55, "fontWeight": "normal", "color": "black", "offset": 8, "dx": 10},
 "layer": [
  {"data": {"name": "ars"}, "mark": {"type": "point", "filled": true, "size": 300, "opacity": 1},
   "encoding": {
    "x": {"field": "sst", "type": "quantitative", "scale": {"domain": [-0.7103, 0.05], "nice": false, "zero": false},
          "axis": {"values": [-0.6, -0.4, -0.2, 0], "format": ".1f", "labelExpr": "replace(datum.label, '−', '-')", "labelFontSize": 46, "labelPadding": 5, "title": "SST difference ( °C)", "titleFontSize": 50, "titlePadding": 15}},
    "y": {"field": "ep", "type": "quantitative", "scale": {"domain": [-1, 1.0116], "nice": false, "zero": false},
          "axis": {"values": [-1, -0.5, 0, 0.5, 1], "format": ".1f", "labelFontSize": 46, "labelPadding": 10, "title": "E-P difference (mm)", "titleFontSize": 50, "titleX": -159, "titleY": 351, "titleAngle": -90, "titleBaseline": "middle", "titleAlign": "center"}},
    "color": {"field": "grp", "type": "nominal", "scale": {"domain": ["s", "w", "o"], "range": ["#a0a2d6", "#f9c3ab", "#d6d6d6"]}, "legend": null},
    "shape": {"field": "grp", "type": "nominal", "scale": {"domain": ["s", "w", "o"], "range": ["triangle-down", "triangle-up", "circle"]}, "legend": null}
   }},
  {"data": {"values": [{}]}, "mark": {"type": "rule", "color": "black", "strokeWidth": 2, "strokeDash": [8, 5]}, "encoding": {"y": {"datum": 0, "type": "quantitative"}}},
  {"data": {"name": "bins"}, "transform": [{"filter": "datum.p == 'c'"}], "mark": {"type": "rule", "color": "black", "strokeWidth": 2},
   "encoding": {"x": {"field": "c", "type": "quantitative", "scale": {"domain": [-0.7103, 0.05], "nice": false, "zero": false}}, "y": {"field": "lo", "type": "quantitative", "scale": {"domain": [-1, 1.0116], "nice": false, "zero": false}}, "y2": {"field": "hi"}}},
  {"data": {"name": "bins"}, "transform": [{"filter": "datum.p == 'c'"}], "mark": {"type": "tick", "orient": "horizontal", "size": 13, "thickness": 2, "color": "black", "opacity": 1},
   "encoding": {"x": {"field": "c", "type": "quantitative", "scale": {"domain": [-0.7103, 0.05], "nice": false, "zero": false}}, "y": {"field": "lo", "type": "quantitative", "scale": {"domain": [-1, 1.0116], "nice": false, "zero": false}}}},
  {"data": {"name": "bins"}, "transform": [{"filter": "datum.p == 'c'"}], "mark": {"type": "tick", "orient": "horizontal", "size": 13, "thickness": 2, "color": "black", "opacity": 1},
   "encoding": {"x": {"field": "c", "type": "quantitative", "scale": {"domain": [-0.7103, 0.05], "nice": false, "zero": false}}, "y": {"field": "hi", "type": "quantitative", "scale": {"domain": [-1, 1.0116], "nice": false, "zero": false}}}},
  {"data": {"name": "bins"}, "transform": [{"filter": "datum.p == 'c'"}], "mark": {"type": "bar", "size": 23, "stroke": "black", "strokeWidth": 2.5, "fill": "#aad26e", "opacity": 1},
   "encoding": {"x": {"field": "c", "type": "quantitative", "scale": {"domain": [-0.7103, 0.05], "nice": false, "zero": false}}, "y": {"field": "q1", "type": "quantitative", "scale": {"domain": [-1, 1.0116], "nice": false, "zero": false}}, "y2": {"field": "q3"}}},
  {"data": {"name": "bins"}, "transform": [{"filter": "datum.p == 'c'"}], "mark": {"type": "tick", "orient": "horizontal", "size": 24, "thickness": 5, "color": "#1e961e", "opacity": 1},
   "encoding": {"x": {"field": "c", "type": "quantitative", "scale": {"domain": [-0.7103, 0.05], "nice": false, "zero": false}}, "y": {"field": "md", "type": "quantitative", "scale": {"domain": [-1, 1.0116], "nice": false, "zero": false}}}}
 ]
},
{
 "width": 938, "height": 721,
 "title": {"text": "(d)\u00a0\u00a0relative skill of IWV", "orient": "bottom", "anchor": "start", "frame": "group", "font": "Lato", "fontSize": 49, "fontWeight": "normal", "color": "black", "offset": 20, "dx": 186},
 "resolve": {"axis": {"y": "independent"}},
 "layer": [
  {"layer": [
  {"data": {"name": "ars"}, "mark": {"type": "point", "filled": true, "size": 300, "opacity": 1},
   "encoding": {
    "x": {"field": "sst", "type": "quantitative", "scale": {"domain": [-0.7008, 0.05], "nice": false, "zero": false},
          "axis": {"values": [-0.6, -0.4, -0.2, 0], "format": ".1f", "labelExpr": "replace(datum.label, '−', '-')", "labelFontSize": 37, "labelPadding": 7, "title": "SST difference ( °C)", "titleFontSize": 38, "titlePadding": 13}},
    "y": {"field": "bss", "type": "quantitative", "scale": {"domain": [-0.6, 0.6], "nice": false, "zero": false},
          "axis": {"values": [-0.6, -0.4, -0.2, 0, 0.2, 0.4, 0.6], "format": ".1f", "labelFontSize": 33, "labelPadding": 14, "title": "BSS", "titleFontSize": 34, "titleX": -150, "titleY": 386, "titleAngle": -90, "titleBaseline": "middle", "titleAlign": "center"}},
    "color": {"field": "grp", "type": "nominal", "scale": {"domain": ["s", "w", "o"], "range": ["#a0a2d6", "#f9c3ab", "#d6d6d6"]},
              "legend": {"orient": "none", "legendX": 21, "legendY": 573, "title": null, "columns": 2, "columnPadding": 83, "labelFontSize": 38, "symbolSize": 300, "symbolOffset": 24, "labelOffset": 49, "rowPadding": 19, "padding": 16.5, "strokeColor": "#cccccc", "cornerRadius": 8, "fillColor": "white", "symbolStrokeWidth": 0, "labelExpr": "datum.label == 's' ? 'strong cooling ARs' : datum.label == 'w' ? 'weak cooling ARs' : 'other ARs'"}},
    "shape": {"field": "grp", "type": "nominal", "scale": {"domain": ["s", "w", "o"], "range": ["triangle-down", "triangle-up", "circle"]},
              "legend": {"orient": "none", "legendX": 21, "legendY": 573, "title": null, "columns": 2, "columnPadding": 83, "labelFontSize": 38, "symbolSize": 300, "symbolOffset": 24, "labelOffset": 49, "rowPadding": 19, "padding": 16.5, "strokeColor": "#cccccc", "cornerRadius": 8, "fillColor": "white", "symbolStrokeWidth": 0, "labelExpr": "datum.label == 's' ? 'strong cooling ARs' : datum.label == 'w' ? 'weak cooling ARs' : 'other ARs'"}}
   }},
  {"data": {"values": [{}]}, "mark": {"type": "rule", "color": "black", "strokeWidth": 2, "strokeDash": [8, 5]}, "encoding": {"y": {"datum": 0, "type": "quantitative"}}},
  {"data": {"name": "bins"}, "transform": [{"filter": "datum.p == 'd'"}], "mark": {"type": "rule", "color": "black", "strokeWidth": 2},
   "encoding": {"x": {"field": "c", "type": "quantitative", "scale": {"domain": [-0.7008, 0.05], "nice": false, "zero": false}}, "y": {"field": "lo", "type": "quantitative", "scale": {"domain": [-0.6, 0.6], "nice": false, "zero": false}}, "y2": {"field": "hi"}}},
  {"data": {"name": "bins"}, "transform": [{"filter": "datum.p == 'd'"}], "mark": {"type": "tick", "orient": "horizontal", "size": 13, "thickness": 2, "color": "black", "opacity": 1},
   "encoding": {"x": {"field": "c", "type": "quantitative", "scale": {"domain": [-0.7008, 0.05], "nice": false, "zero": false}}, "y": {"field": "lo", "type": "quantitative", "scale": {"domain": [-0.6, 0.6], "nice": false, "zero": false}}}},
  {"data": {"name": "bins"}, "transform": [{"filter": "datum.p == 'd'"}], "mark": {"type": "tick", "orient": "horizontal", "size": 13, "thickness": 2, "color": "black", "opacity": 1},
   "encoding": {"x": {"field": "c", "type": "quantitative", "scale": {"domain": [-0.7008, 0.05], "nice": false, "zero": false}}, "y": {"field": "hi", "type": "quantitative", "scale": {"domain": [-0.6, 0.6], "nice": false, "zero": false}}}},
  {"data": {"name": "bins"}, "transform": [{"filter": "datum.p == 'd'"}], "mark": {"type": "bar", "size": 24, "stroke": "black", "strokeWidth": 2.5, "opacity": 1},
   "encoding": {"x": {"field": "c", "type": "quantitative", "scale": {"domain": [-0.7008, 0.05], "nice": false, "zero": false}}, "y": {"field": "q1", "type": "quantitative", "scale": {"domain": [-0.6, 0.6], "nice": false, "zero": false}}, "y2": {"field": "q3"},
    "fill": {"datum": "binned statistics of all ARs", "type": "nominal", "scale": {"range": ["#aad26e"]},
             "legend": {"orient": "none", "legendX": 284, "legendY": 13.5, "title": null, "padding": 0, "symbolType": "M-1,-0.34L1,-0.34L1,0.34L-1,0.34Z", "symbolSize": 5929, "symbolStrokeColor": "black", "symbolStrokeWidth": 2.5, "labelFontSize": 38, "labelOffset": 30}}}},
  {"data": {"name": "bins"}, "transform": [{"filter": "datum.p == 'd'"}], "mark": {"type": "tick", "orient": "horizontal", "size": 25, "thickness": 5, "color": "#1e961e", "opacity": 1},
   "encoding": {"x": {"field": "c", "type": "quantitative", "scale": {"domain": [-0.7008, 0.05], "nice": false, "zero": false}}, "y": {"field": "md", "type": "quantitative", "scale": {"domain": [-0.6, 0.6], "nice": false, "zero": false}}}},
  {"data": {"name": "bins"}, "transform": [{"filter": "datum.p == 'd'"}], "mark": {"type": "line", "color": "#e8231f", "strokeWidth": 2, "strokeDash": [6, 4], "interpolate": "monotone"},
   "encoding": {"x": {"field": "c", "type": "quantitative", "scale": {"domain": [-0.7008, 0.05], "nice": false, "zero": false}}, "y": {"field": "mn", "type": "quantitative", "scale": {"domain": [-0.6, 0.6], "nice": false, "zero": false}}}},
  {"data": {"name": "bins"}, "transform": [{"filter": "datum.p == 'd'"}], "mark": {"type": "point", "shape": "square", "filled": true, "size": 110, "color": "#e8231f", "opacity": 1},
   "encoding": {"x": {"field": "c", "type": "quantitative", "scale": {"domain": [-0.7008, 0.05], "nice": false, "zero": false}}, "y": {"field": "mn", "type": "quantitative", "scale": {"domain": [-0.6, 0.6], "nice": false, "zero": false}}}}
  ]},
  {"data": {"values": [{}]}, "mark": {"type": "rule", "opacity": 0},
   "encoding": {"y": {"datum": 0, "type": "quantitative", "axis": {"orient": "right", "domain": false, "ticks": false, "labels": false, "grid": false, "title": "IWV", "titleFontSize": 24, "titleX": -1077, "titleY": 325, "titleAngle": -90, "titleBaseline": "middle", "titleAlign": "center"}}}}
 ]
}
],
"spacing": 248,
"bounds": "flush",
"resolve": {"scale": {"color": "independent", "shape": "independent", "fill": "independent"}, "legend": {"color": "independent", "shape": "independent", "fill": "independent"}}
}
]
}
